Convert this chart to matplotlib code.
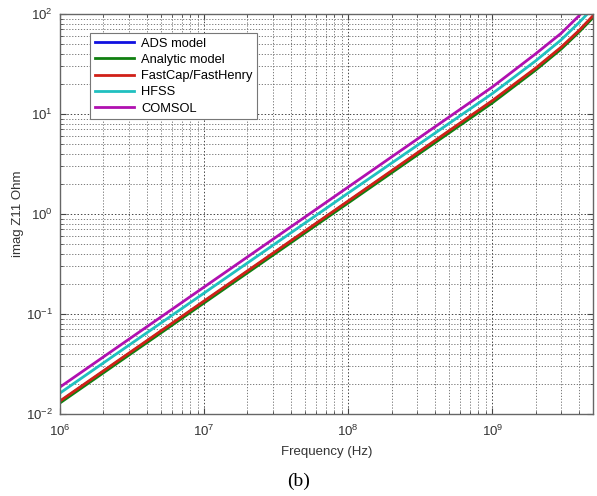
import matplotlib
matplotlib.use("Agg")
import matplotlib.pyplot as plt
from matplotlib.ticker import LogLocator, NullFormatter

freq = [1e6, 1e7, 1e8, 1e9, 2e9, 3e9, 4e9, 5e9]
ads = [0.0133, 0.133, 1.33, 13.3, 28.2, 45.5, 67.5, 94]
analytic = [0.0129, 0.129, 1.29, 12.9, 27.5, 44.5, 66, 92]
fastcap = [0.0135, 0.135, 1.35, 13.6, 28.8, 46.5, 68.5, 96]
hfss = [0.0162, 0.162, 1.62, 16.0, 34, 55, 82, 115]
comsol = [0.0186, 0.186, 1.86, 18.6, 40, 64, 96, 140]

labels = ["ADS model", "Analytic model", "FastCap/FastHenry", "HFSS", "COMSOL"]
colors = ["#1010e0", "#108010", "#d02018", "#20c0c0", "#b010b0"]
series = [ads, analytic, fastcap, hfss, comsol]

plt.rcParams['font.family'] = ['Liberation Sans', 'DejaVu Sans']
plt.rcParams['axes.unicode_minus'] = False
fig = plt.figure(figsize=(5.97, 4.96), dpi=100)
ax = fig.add_axes([60/597, 1-414/496, (593-60)/597, (414-14)/496])

for y, c, lab in zip(series, colors, labels):
    ax.plot(freq, y, color=c, lw=2, label=lab)

ax.set_xscale('log')
ax.set_yscale('log')
ax.set_xlim(1e6, 5e9)
ax.set_ylim(1e-2, 1e2)
ax.xaxis.set_major_locator(LogLocator(base=10, numticks=10))
ax.yaxis.set_major_locator(LogLocator(base=10, numticks=10))
ax.xaxis.set_minor_locator(LogLocator(base=10, subs=range(2, 10), numticks=20))
ax.yaxis.set_minor_locator(LogLocator(base=10, subs=range(2, 10), numticks=20))
ax.xaxis.set_minor_formatter(NullFormatter())
ax.yaxis.set_minor_formatter(NullFormatter())
ax.grid(True, which='major', color='#444444', ls=(0, (1.5, 2)), lw=0.7)
ax.grid(True, which='minor', color='#666666', ls=(0, (1.5, 2)), lw=0.6)
ax.tick_params(which='both', direction='in', top=True, right=True, labelsize=9.5, colors='#444444', labelcolor='#333333')
ax.tick_params(which='major', length=4)
ax.tick_params(which='minor', length=2)
ax.tick_params(axis='x', pad=7)
ax.tick_params(axis='y', pad=5)
for s in ax.spines.values():
    s.set_color('#666666')
    s.set_linewidth(1.0)

ax.set_xlabel("Frequency (Hz)", fontsize=9.5, color='#333333', labelpad=5)
ax.set_ylabel("imag Z11 Ohm", fontsize=9.5, color='#333333')
ax.yaxis.set_label_coords(-0.068, 0.5)

leg = ax.legend(loc='upper left', bbox_to_anchor=(0.045, 0.968), fontsize=9.3,
                frameon=True, fancybox=False, framealpha=1, edgecolor='#777777',
                handlelength=3.0, borderpad=0.35, labelspacing=0.32, handletextpad=0.6)
leg.get_frame().set_linewidth(0.8)

fig.text(0.5, 1-481/496, "(b)", ha='center', va='center', fontsize=14,
         family=['Liberation Serif', 'DejaVu Serif'])

fig.savefig("out.png", dpi=100)
